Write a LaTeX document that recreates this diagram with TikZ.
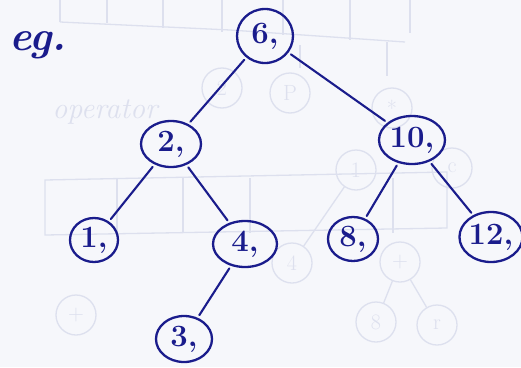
\documentclass[tikz,border=0pt]{standalone}
\usetikzlibrary{shapes.geometric}
\definecolor{ink}{HTML}{1A1C8C}
\definecolor{paper}{HTML}{F6F7FB}
\definecolor{ghost}{HTML}{DDE0EE}
\begin{document}
\begin{tikzpicture}[x=1pt,y=-1pt,
  tnode/.style={ellipse,draw=ink,line width=2.3pt,inner sep=0pt,text=ink,
    font=\fontsize{31}{36}\selectfont\bfseries},
  edge/.style={draw=ink,line width=2.1pt,shorten <=3pt,shorten >=3pt,line cap=round},
  ghostline/.style={draw=ghost,line width=1.3pt},
  ghostnode/.style={circle,draw=ghost,line width=1.3pt,minimum size=40pt,inner sep=0pt,
    text=ghost,font=\fontsize{22}{26}\selectfont}]
\fill[paper] (0,0) rectangle (521,367);
\useasboundingbox (0,0) rectangle (521,367);
% faint show-through from the other side of the sheet
\draw[ghostline] (60,22) -- (230,30) -- (405,42);
\foreach \x/\y in {60/22,107/23,163/28,222/32,283/35,350/40,410/33}
  \draw[ghostline] (\x,0) -- (\x,\y);
\draw[ghostline] (300,45) -- (300,68);
\draw[ghostline] (387,42) -- (387,76);
\draw[ghostline] (45,180) -- (447,172) -- (447,228) -- (45,235) -- cycle;
\foreach \x in {117,183,250,393}
  \draw[ghostline] (\x,178) -- (\x,233);
\node[ghostnode] (g1) at (222,88) {2};
\node[ghostnode] (g2) at (290,93) {P};
\node[ghostnode] (g3) at (392,108) {*};
\node[ghostnode] (g4) at (356,170) {1};
\node[ghostnode] (g5) at (452,168) {c};
\node[ghostnode] (g6) at (292,263) {4};
\node[ghostnode] (g7) at (400,262) {+};
\node[ghostnode] (g8) at (376,322) {8};
\node[ghostnode] (g9) at (437,325) {r};
\node[ghostnode] (g10) at (76,315) {+};
\draw[ghostline] (g7) -- (g8);
\draw[ghostline] (g7) -- (g9);
\draw[ghostline] (g4) -- (g6);
\node[text=ghost,font=\fontsize{30}{34}\itshape] (op) at (105,112) {operator};
% main tree
\node[font=\fontsize{42}{46}\selectfont\itshape\bfseries,text=ink] (eg) at (38,45) {eg.};
\node[tnode,minimum width=56pt,minimum height=54pt] (n6) at (265,36) {6,};
\node[tnode,minimum width=60pt,minimum height=46pt] (n2) at (171,144) {2,};
\node[tnode,minimum width=66pt,minimum height=48pt] (n10) at (412,140) {10,};
\node[tnode,minimum width=48pt,minimum height=44pt] (n1) at (94,240) {1,};
\node[tnode,minimum width=64pt,minimum height=46pt] (n4) at (245,244) {4,};
\node[tnode,minimum width=50pt,minimum height=44pt] (n8) at (353,239) {8,};
\node[tnode,minimum width=58pt,minimum height=50pt] (n12) at (491,237) {12,};
\node[tnode,minimum width=56pt,minimum height=46pt] (n3) at (184,339) {3,};
\draw[edge] (n6) -- (n2);
\draw[edge] (n6) -- (n10);
\draw[edge] (n2) -- (n1);
\draw[edge] (n2) -- (n4);
\draw[edge] (n4) -- (n3);
\draw[edge] (n10) -- (n8);
\draw[edge] (n10) -- (n12);
\end{tikzpicture}
\end{document}
